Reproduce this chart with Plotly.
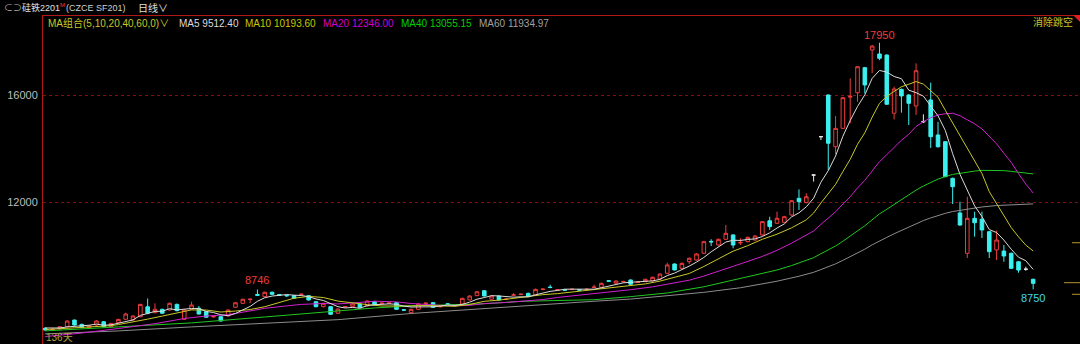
import plotly.graph_objects as go

# ---------------- data ----------------
opens = [
    7300, 7250, 7275, 7360, 7605, 7445, 7320, 7420, 7540, 7360,
    7510, 7635, 7610, 7730, 8100, 7880, 8005, 7980, 8190, 7635,
    8005, 8045, 7915, 7720, 7730, 7760, 8085, 8230, 8370, 8560,
    8480, 8640, 8555, 8525, 8515, 8555, 8515, 8290, 8105, 8105,
    7860, 8095, 8105, 8205, 8130, 8290, 8220, 8225, 8255, 7990,
    7880, 8005, 8220, 8255, 8100, 8210, 8135, 8205, 8355, 8515,
    8700, 8380, 8500, 8375, 8530, 8555, 8600, 8540, 8745, 8835,
    8720, 8735, 8745, 8735, 8745, 8820, 8830, 9070, 8980, 9030,
    9100, 9005, 9040, 9065, 9140, 9350, 9695, 9535, 9785, 9845,
    10095, 10540, 10405, 10620, 10780, 10480, 10530, 10590, 10780, 11310,
    11215, 11250, 11525, 12145, 11985, 13015, 14445, 16000, 14070, 14757,
    15920, 16085, 17020, 17680, 17530, 17490, 15320, 16210, 16000, 15590,
    15005, 15815, 14510, 14260, 12890, 11600, 10095, 11400, 11365, 10900,
    10220, 10180, 10095, 9780, 9500, 9125]
highs = [
    7340, 7290, 7380, 7590, 7620, 7470, 7410, 7600, 7570, 7500,
    7650, 7880, 7790, 8210, 8410, 8230, 8030, 8260, 8220, 8000,
    8290, 8130, 7940, 7760, 7750, 8000, 8270, 8400, 8400, 8746,
    8670, 8670, 8580, 8550, 8540, 8600, 8540, 8310, 8250, 8130,
    8040, 8130, 8230, 8230, 8340, 8310, 8260, 8260, 8280, 8010,
    8030, 8230, 8260, 8280, 8140, 8240, 8170, 8440, 8530, 8690,
    8720, 8530, 8520, 8420, 8610, 8600, 8630, 8780, 8790, 8920,
    8760, 8760, 8780, 8760, 8780, 8920, 9000, 9100, 9090, 9070,
    9120, 9050, 9150, 9230, 9350, 9745, 9720, 9750, 9940, 10100,
    10560, 10620, 10650, 11150, 10800, 10655, 10720, 10770, 11300, 11460,
    11650, 11490, 12080, 12480, 12335, 13020, 14450, 16020, 15215, 15930,
    16620, 17080, 17050, 17860, 17950, 17520, 16310, 16240, 16030, 17180,
    15280, 16460, 15000, 14280, 12920, 12020, 12205, 11650, 11650, 10930,
    10940, 10405, 10120, 9800, 9595, 9150]
lows = [
    7200, 7220, 7260, 7340, 7400, 7300, 7300, 7400, 7340, 7340,
    7490, 7620, 7590, 7710, 7820, 7860, 7830, 7960, 7930, 7610,
    7990, 7810, 7690, 7700, 7550, 7740, 8060, 8210, 8230, 8500,
    8460, 8540, 8510, 8480, 8400, 8530, 8330, 8080, 8080, 7800,
    7830, 8070, 8090, 8060, 8110, 8150, 8200, 8200, 7980, 7940,
    7860, 7990, 8200, 8060, 8080, 8170, 8110, 8180, 8340, 8500,
    8480, 8360, 8330, 8350, 8510, 8540, 8460, 8520, 8720, 8790,
    8700, 8700, 8720, 8700, 8720, 8800, 8810, 9030, 8960, 9010,
    8920, 8990, 9020, 9040, 9120, 9330, 9450, 9510, 9695, 9820,
    10070, 10370, 10380, 10600, 10280, 10405, 10500, 10570, 10750, 10965,
    11190, 11230, 11500, 11710, 11960, 12770, 14320, 13200, 13800, 14730,
    14945, 15750, 16060, 16810, 17300, 15630, 15090, 15340, 14880, 15255,
    14950, 14025, 14040, 12930, 11935, 11120, 9920, 10715, 10665, 9920,
    9845, 9780, 9510, 9370, 9445, 8750]
closes = [
    7235, 7265, 7355, 7570, 7420, 7325, 7390, 7570, 7360, 7480,
    7630, 7830, 7755, 8190, 7860, 8005, 7860, 8230, 7955, 7980,
    8165, 7830, 7710, 7740, 7570, 7980, 8250, 8380, 8385, 8530,
    8640, 8565, 8535, 8510, 8420, 8570, 8355, 8105, 8230, 7820,
    8015, 8110, 8205, 8080, 8315, 8170, 8235, 8240, 8005, 7975,
    8005, 8205, 8235, 8080, 8110, 8195, 8145, 8415, 8500, 8660,
    8505, 8500, 8355, 8390, 8545, 8570, 8480, 8750, 8760, 8820,
    8735, 8720, 8755, 8720, 8755, 8835, 8975, 9055, 9060, 9045,
    8940, 9020, 9125, 9200, 9320, 9660, 9475, 9720, 9910, 10070,
    10530, 10520, 10615, 10840, 10405, 10500, 10690, 10740, 11275, 11090,
    11400, 11460, 12055, 12020, 12205, 13015, 14445, 14200, 14755, 15900,
    15950, 17055, 16375, 17825, 17370, 15655, 16225, 15965, 15690, 16905,
    15005, 14445, 14070, 12955, 12580, 11150, 11400, 11235, 10965, 10155,
    10590, 9995, 9535, 9470, 9500, 8975]

# moving-average lines (values read/estimated at these bar indices)
ma5_val = [
    7310, 7300, 7310, 7350, 7369, 7387, 7412, 7455, 7413, 7425,
    7486, 7574, 7611, 7777, 7853, 7928, 7934, 8029, 7982, 8006,
    8038, 8032, 7928, 7885, 7803, 7766, 7850, 7984, 8113, 8305,
    8437, 8500, 8531, 8556, 8534, 8520, 8478, 8392, 8336, 8216,
    8105, 8056, 8076, 8046, 8145, 8176, 8201, 8208, 8193, 8125,
    8092, 8086, 8085, 8100, 8127, 8165, 8153, 8189, 8273, 8383,
    8445, 8516, 8504, 8482, 8459, 8472, 8468, 8547, 8621, 8676,
    8709, 8757, 8758, 8750, 8737, 8757, 8808, 8868, 8936, 8994,
    9015, 9024, 9038, 9066, 9121, 9265, 9356, 9475, 9617, 9767,
    9941, 10150, 10329, 10515, 10582, 10576, 10610, 10635, 10722, 10859,
    11039, 11193, 11456, 11605, 11828, 12151, 12748, 13177, 13724, 14463,
    15050, 15572, 16007, 16621, 16915, 16856, 16690, 16608, 16181, 16088,
    15958, 15602, 15223, 14676, 13811, 13040, 12431, 11864, 11466, 10981,
    10869, 10588, 10248, 9949, 9818, 9495]
ma5_idx = list(range(len(ma5_val)))

ma10_idx = [0, 4, 8, 9, 10] + list(range(12, 105, 2)) + list(range(105, 136))
ma10_val = [
    7250, 7310, 7380, 7397, 7437,
    7533, 7639, 7754, 7880, 7983, 7979, 7905, 7941, 7999, 8102,
    8258, 8420, 8489, 8446, 8313, 8234, 8181, 8129, 8120, 8134,
    8147, 8126, 8120, 8187, 8305, 8347, 8421, 8492, 8552, 8591,
    8653, 8707, 8783, 8843, 8886, 8953, 9058, 9190, 9342, 9603,
    9902, 10175, 10380, 10619, 10808, 11046, 11344,
    11595, 11971, 12317, 12665, 13146, 13601, 14160, 14592, 15173, 15689,
    15953, 16131, 16308, 16401, 16502, 16407, 16146, 15916, 15429, 14950,
    14499, 14017, 13544, 13071, 12396, 11955, 11510, 11056, 10708, 10400,
    10182]

ma20_idx = [0, 5, 10, 15, 19, 22, 25, 28, 30, 33, 35, 38, 40, 43, 45, 48, 50,
            53, 55, 58, 60, 63, 65, 68, 70, 73, 75, 78, 80, 83, 85, 88, 90,
            93, 95, 98, 100, 102] + list(range(103, 136))
ma20_val = [
    6990, 7120, 7290, 7470, 7663, 7756, 7805, 7939, 8042, 8134,
    8190, 8223, 8207, 8263, 8310, 8283, 8223, 8169, 8135, 8153,
    8220, 8262, 8294, 8369, 8448, 8532, 8596, 8697, 8738, 8843,
    8937, 9092, 9245, 9534, 9699, 9980, 10205, 10474,
    10615, 10759, 10927, 11175, 11399, 11642, 11933, 12204, 12531, 12819,
    13168, 13516, 13774, 14051, 14312, 14533, 14824, 15004, 15153, 15254,
    15301, 15319, 15226, 15074, 14926, 14736, 14449, 14181, 13828, 13486,
    13068, 12675, 12341]

ma40_idx = [0, 10, 20, 30, 39, 45, 50, 55, 60, 65, 70, 75, 80, 85, 90, 95,
            98, 100, 102] + list(range(103, 136))
ma40_val = [
    7200, 7340, 7500, 7720, 7939, 8057, 8133, 8162, 8213, 8302,
    8336, 8365, 8479, 8615, 8846, 9148, 9339, 9472, 9638,
    9729, 9821, 9932, 10081, 10217, 10367, 10544, 10724, 10933, 11123,
    11351, 11566, 11737, 11918, 12091, 12256, 12453, 12605, 12740, 12864,
    12958, 13039, 13076, 13125, 13162, 13189, 13191, 13192, 13179, 13152,
    13118, 13095, 13057]

ma60_idx = [0, 10, 20, 30, 40, 50, 59, 65, 70, 75, 80, 85, 90, 95, 100, 103] \
    + list(range(105, 129)) + [130, 133, 135]
ma60_val = [
    7090, 7200, 7350, 7480, 7620, 7850, 8024, 8136, 8238, 8307,
    8388, 8513, 8639, 8810, 9054, 9240,
    9386, 9489, 9588, 9701, 9833, 9965, 10113, 10249, 10411, 10565,
    10690, 10824, 10950, 11070, 11207, 11316, 11415, 11510, 11586, 11653,
    11696, 11745, 11787, 11823,
    11876, 11923, 11938]

right_marks = [10490, 8999, 8566]

# ---------------- styling ----------------
W, H = 1080, 344
ML, MT = 43, 16
PW, PH = W - ML, H - MT
RED = "#f03c3c"
CYAN = "#3cf0f0"
C_MA5 = "#dcdcdc"
C_MA10 = "#c8c828"
C_MA20 = "#d020d0"
C_MA40 = "#20c820"
C_MA60 = "#8c8c8c"
FONT = "Liberation Sans, Arial, Noto Sans CJK SC, sans-serif"


def px(x):
    return (x - ML) / PW


def py(y):
    return (H - y) / PH


n = len(closes)
reg = [i for i in range(n) if opens[i] != closes[i]]
doji = [i for i in range(n) if opens[i] == closes[i]]

fig = go.Figure()
fig.add_trace(go.Candlestick(
    x=reg,
    open=[opens[i] for i in reg], high=[highs[i] for i in reg],
    low=[lows[i] for i in reg], close=[closes[i] for i in reg],
    increasing=dict(line=dict(color=RED, width=1), fillcolor="#000000"),
    decreasing=dict(line=dict(color=CYAN, width=1), fillcolor=CYAN),
    whiskerwidth=0, hoverinfo="skip", showlegend=False))
fig.add_trace(go.Candlestick(
    x=doji,
    open=[opens[i] for i in doji], high=[highs[i] for i in doji],
    low=[lows[i] for i in doji], close=[closes[i] for i in doji],
    increasing=dict(line=dict(color="#e8e8e8", width=1), fillcolor="#e8e8e8"),
    decreasing=dict(line=dict(color="#e8e8e8", width=1), fillcolor="#e8e8e8"),
    whiskerwidth=0, hoverinfo="skip", showlegend=False))

for xs, ys, col in [(ma60_idx, ma60_val, C_MA60), (ma40_idx, ma40_val, C_MA40),
                    (ma20_idx, ma20_val, C_MA20), (ma10_idx, ma10_val, C_MA10),
                    (ma5_idx, ma5_val, C_MA5)]:
    fig.add_trace(go.Scatter(x=xs, y=ys, mode="lines",
                             line=dict(color=col, width=1),
                             hoverinfo="skip", showlegend=False))

ann = []


def txt(x, y, s, color, size=10, anchor="left"):
    ann.append(dict(x=px(x), y=py(y), xref="paper", yref="paper", text=s,
                    showarrow=False, xanchor=anchor, yanchor="middle",
                    font=dict(color=color, size=size, family=FONT)))


# header row 1
txt(2, 8, "⊂⊃", "#b0b0b0", 9)
txt(20, 8, "硅铁2201", "#e0e0e0", 9)
txt(58, 5, "M", RED, 6)
txt(64, 8, "(CZCE SF201)", "#d0d0d0", 9)
txt(136, 8, "日线∨", "#e0e0e0", 10)
# header row 2
txt(46, 23, "MA组合(5,10,20,40,60,0)∨", "#c8c828", 10)
txt(177, 23, "MA5 9512.40", C_MA5, 10)
txt(243, 23, "MA10 10193.60", "#c8c800", 10)
txt(321, 23, "MA20 12346.00", "#d000d0", 10)
txt(399, 23, "MA40 13055.15", "#00d000", 10)
txt(477, 23, "MA60 11934.97", "#a0a0a0", 10)
txt(1031, 22, "消除跳空", "#c8c828", 10)
txt(44, 337, "136天", "#b0a040", 10)

# extreme labels
ann.append(dict(x=114, y=17950, xref="x", yref="y", text="17950", showarrow=False,
                yanchor="bottom", yshift=0, font=dict(color=RED, size=11, family=FONT)))
ann.append(dict(x=29, y=8746, xref="x", yref="y", text="8746", showarrow=False,
                yanchor="bottom", yshift=1, font=dict(color=RED, size=11, family=FONT)))
ann.append(dict(x=135, y=8750, xref="x", yref="y", text="8750", showarrow=False,
                yanchor="top", yshift=-1, font=dict(color="#40d8e8", size=11, family=FONT)))

shapes = [
    # header separator line
    dict(type="line", xref="paper", yref="paper", x0=px(42), x1=1, y0=py(15.5), y1=py(15.5),
         line=dict(color="#b01818", width=1)),
    # top-right red marker
    dict(type="path", xref="paper", yref="paper",
         path=f"M {px(1073)} {py(15)} L {px(1080)} {py(15)} L {px(1080)} {py(22)} Z",
         fillcolor="#e02020", line=dict(width=0)),
]
for v, x0 in zip(right_marks, [1072, 1064, 1072]):
    shapes.append(dict(type="line", xref="paper", yref="y", x0=px(x0), x1=1, y0=v, y1=v,
                       line=dict(color="#b09830", width=1)))

fig.update_layout(
    width=W, height=H,
    margin=dict(l=ML, r=0, t=MT, b=0),
    paper_bgcolor="#000000", plot_bgcolor="#000000",
    showlegend=False,
    xaxis=dict(range=[-0.3, 141.4], visible=False, rangeslider=dict(visible=False),
               showgrid=False, zeroline=False),
    yaxis=dict(range=[6712, 18947], tickvals=[12000, 16000],
               ticktext=["12000", "16000"], showgrid=True, gridcolor="#8a0c0c",
               griddash="3px,3px", gridwidth=1, zeroline=False, showline=True,
               linecolor="#b01818", linewidth=1, ticks="",
               tickfont=dict(color="#bdbdbd", size=11, family=FONT),
               ticklabelstandoff=2),
    annotations=ann,
    shapes=shapes,
    hovermode=False,
)

fig.write_html("out.html")
